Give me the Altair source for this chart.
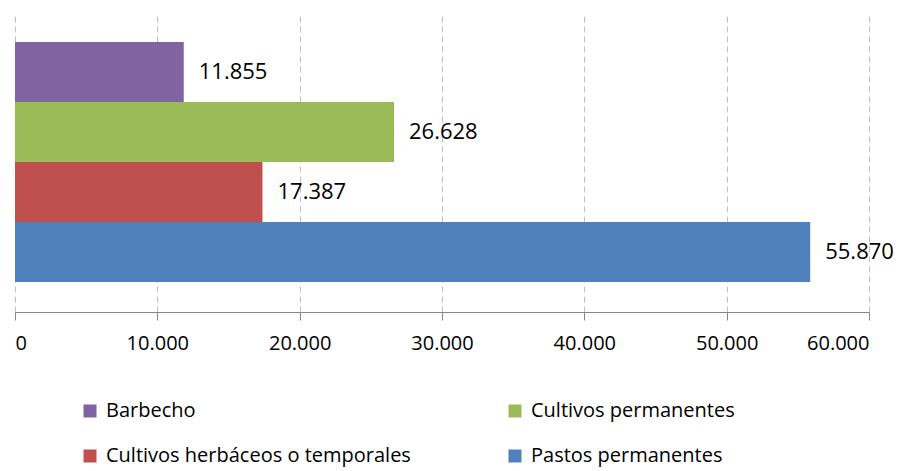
import altair as alt
import pandas as pd

categories = ["Barbecho", "Cultivos permanentes", "Cultivos herbáceos o temporales", "Pastos permanentes"]
values = [11855, 26628, 17387, 55870]
colors = ["#8064A2", "#9BBB59", "#C0504D", "#4F81BD"]
tick_values = [0, 10000, 20000, 30000, 40000, 50000, 60000]
legend_order = ["Barbecho", "Cultivos herbáceos o temporales", "Cultivos permanentes", "Pastos permanentes"]

FONT = "Open Sans"
df = pd.DataFrame({"cat": categories, "val": values})

base = alt.Chart(df).encode(
    y=alt.Y("cat:N", sort=categories, axis=None,
            scale=alt.Scale(paddingInner=0, paddingOuter=0.5)),
)

bars = base.mark_bar().encode(
    x=alt.X("val:Q", scale=alt.Scale(domain=[0, 60000], nice=False),
            axis=alt.Axis(values=tick_values, title=None,
                          labelExpr="replace(format(datum.value, ','), ',', '.')",
                          grid=True, gridDash=[6, 4], gridColor="#BFBFBF", gridWidth=1,
                          domainColor="#868686", tickColor="#868686", tickSize=8,
                          labelFontSize=20, labelFont=FONT, labelColor="black",
                          labelPadding=13)),
    color=alt.Color("cat:N", scale=alt.Scale(domain=categories, range=colors),
                    legend=alt.Legend(orient="none", legendX=65, legendY=389, columns=2,
                                      values=legend_order,
                                      columnPadding=94, rowPadding=25, title=None,
                                      symbolType="square", symbolSize=169,
                                      symbolStrokeWidth=0, labelFontSize=20,
                                      labelFont=FONT, labelColor="black",
                                      labelOffset=6, padding=0, labelLimit=600)),
)

labels = base.mark_text(align="left", baseline="middle", dx=15, fontSize=22,
                        font=FONT, color="black").encode(
    x=alt.X("val:Q"),
    text=alt.Text("lbl:N"),
).transform_calculate(lbl="replace(format(datum.val, ','), ',', '.')")

chart = alt.layer(bars, labels).properties(
    width=854, height=300,
    autosize=alt.AutoSizeParams(type="none"),
    padding={"left": 7, "top": 4, "right": 30, "bottom": 156},
).configure_view(stroke=None)

chart.save("out.html", embed_options={"renderer": "svg", "actions": False})
